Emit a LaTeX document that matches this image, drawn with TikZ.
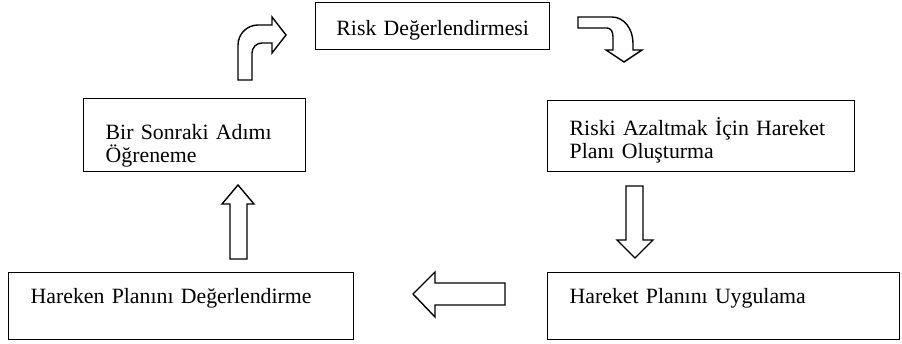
\documentclass[tikz,border=0pt]{standalone}
\usepackage{fontspec}
\setmainfont{Liberation Serif}
\begin{document}
\begin{tikzpicture}[
  x=1pt, y=-1pt,
  box/.style={draw, line width=1.4pt, anchor=north west, align=left,
    inner xsep=22pt, inner ysep=0pt,
    font=\fontsize{21.8}{22.5}\selectfont},
  blk/.style={draw, line width=1.4pt, fill=white, line join=miter}
]
\useasboundingbox (0,0) rectangle (902,344);

\node[box, align=center, inner xsep=10pt, text width=214pt,
  text height=33pt, text depth=14pt] (risk) at (315,2) {Risk Değerlendirmesi};
\node[box, text width=263pt, text height=35pt, text depth=36pt] (plan) at (547,100)
  {Riski Azaltmak İçin Hareket\\Planı Oluşturma};
\node[box, text width=308pt, text height=31pt, text depth=36pt] (uygula) at (547,272)
  {Hareket Planını Uygulama};
\node[box, text width=301pt, text height=31pt, text depth=36pt] (degerlendir) at (8,272)
  {Hareken Planını Değerlendirme};
\node[box, text width=178pt, text height=41pt, text depth=32pt] (ogren) at (83,98)
  {Bir Sonraki Adımı\\Öğreneme};

% block arrows
\draw[blk] (578,17) -- (612,17) .. controls (624,17) and (633,29) .. (633,43)
  -- (633,50) -- (642,50) -- (624,62) -- (606,50) -- (613,50) -- (613,37)
  .. controls (613,32) and (611,28) .. (607,28) -- (578,28) -- cycle;
\draw[blk] (626,186) -- (643,186) -- (643,240) -- (653,240) -- (635,258)
  -- (617,240) -- (626,240) -- cycle;
\draw[blk] (505,283) -- (505,305) -- (435,305) -- (435,317) -- (413,294)
  -- (435,272) -- (435,283) -- cycle;
\draw[blk] (230,259) -- (247,259) -- (247,204) -- (254,204) -- (238,185)
  -- (222,204) -- (230,204) -- cycle;
\draw[blk] (238,80) -- (238,45) .. controls (238,34) and (247,25) .. (258,25)
  -- (272,25) -- (272,17) -- (286,35) -- (272,53) -- (272,43) -- (262,43)
  .. controls (256.5,43) and (252,47.5) .. (252,53) -- (252,80) -- cycle;
\end{tikzpicture}
\end{document}
